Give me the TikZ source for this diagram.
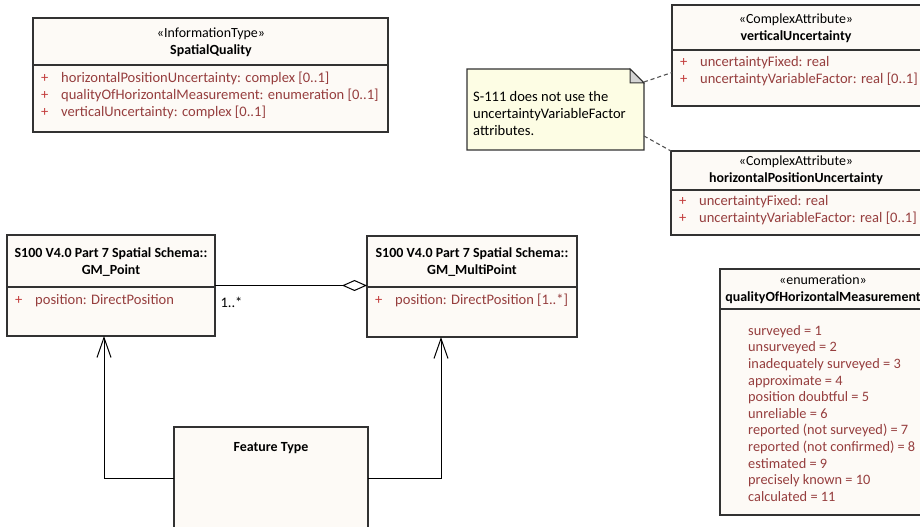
\documentclass[tikz,border=0pt]{standalone}
\usepackage{fontspec}
\setmainfont{Carlito}
\usepackage{xcolor}
\usetikzlibrary{arrows.meta}
\definecolor{boxfill}{RGB}{253,250,246}
\definecolor{boxline}{RGB}{50,50,50}
\definecolor{attrred}{RGB}{150,62,62}
\definecolor{plusred}{RGB}{195,60,60}
\definecolor{notefill}{RGB}{253,253,228}
\definecolor{foldgray}{RGB}{212,212,212}
\newcommand{\umlfont}{\fontsize{14}{17}\selectfont}
\newcommand{\attrfont}{\fontsize{14.6}{17.2}\selectfont}
\newcommand{\enumfont}{\fontsize{14.4}{16.7}\selectfont}
\newcommand{\plusmark}{\makebox[20bp][l]{\textcolor{plusred}{+}}}
\tikzstyle{classbox} = [rectangle, draw=boxline, fill=boxfill, line width=1.2bp, inner sep=0pt, outer sep=0pt, anchor=north west]
\tikzstyle{headtext} = [align=center, font=\umlfont, inner sep=0pt]
\tikzstyle{attrtext} = [align=left, anchor=north west, font=\attrfont, text=attrred, inner sep=0pt]
\tikzstyle{divider} = [draw=boxline, line width=1.2bp]
\tikzstyle{notebox} = [rectangle, inner sep=0pt, outer sep=0pt, anchor=north west]
\tikzstyle{noteline} = [draw=boxline, fill=notefill, line width=1.2bp, line join=miter]
\tikzstyle{notefold} = [draw=boxline, fill=foldgray, line width=1bp]
\tikzstyle{notetext} = [align=left, anchor=north west, font=\attrfont, inner sep=0pt]
\tikzstyle{notelink} = [draw=boxline!85, line width=1.1bp, dash pattern=on 4bp off 3bp]
\tikzstyle{assoc} = [line width=1bp, -{Diamond[open, length=25bp, width=11bp]}]
\tikzstyle{genarrow} = [line width=1bp, -{Straight Barb[length=20bp, width=14bp]}]
\tikzstyle{multtext} = [font=\attrfont, inner sep=0pt]

\begin{document}
\begin{tikzpicture}[x=1bp, y=-1bp]
\useasboundingbox (0,0) rectangle (920,527);
\clip (0,0) rectangle (920,527);

% information type
\node (spatial) [classbox, minimum width=355bp, minimum height=114bp] at (33,18) {};
\draw [divider] (spatial.west |- 0,65) -- (spatial.east |- 0,65);
\node (spatialhead) [headtext] at (211,42.5) {«InformationType»\\\textbf{SpatialQuality}};
\node (spatialattr) [attrtext] at (41,72) {\plusmark horizontalPositionUncertainty: complex [0..1]\\
  \plusmark qualityOfHorizontalMeasurement: enumeration [0..1]\\
  \plusmark verticalUncertainty: complex [0..1]};

% note
\node (note) [notebox, minimum width=177bp, minimum height=81bp] at (467,69) {};
\draw [noteline] (note.south west) -- (note.north west) -- ([xshift=-14bp]note.north east) -- ([yshift=-14bp]note.north east) -- (note.south east) -- cycle;
\draw [notefold] ([xshift=-14bp]note.north east) -- ([yshift=-14bp]note.north east) -- ([xshift=-14bp,yshift=-14bp]note.north east) -- cycle;
\node (notetext) [notetext] at (473,91) {S-111 does not use the\\uncertaintyVariableFactor\\attributes.};

% complex attributes
\node (vertunc) [classbox, minimum width=270bp, minimum height=101bp] at (672,5) {};
\draw [divider] (vertunc.west |- 0,50) -- (vertunc.east |- 0,50);
\node (vertunchead) [headtext] at (796,28) {«ComplexAttribute»\\\textbf{verticalUncertainty}};
\node (vertuncattr) [attrtext] at (680,56) {\plusmark uncertaintyFixed: real\\
  \plusmark uncertaintyVariableFactor: real [0..1]};

\node (horizunc) [classbox, minimum width=270bp, minimum height=84bp] at (671,151) {};
\draw [divider] (horizunc.west |- 0,190) -- (horizunc.east |- 0,190);
\node (horizunchead) [headtext] at (796,170) {«ComplexAttribute»\\\textbf{horizontalPositionUncertainty}};
\node (horizuncattr) [attrtext] at (679,195) {\plusmark uncertaintyFixed: real\\
  \plusmark uncertaintyVariableFactor: real [0..1]};

\draw [notelink] ([yshift=-13bp]note.north east) -- ([yshift=-17bp]vertunc.west);
\draw [notelink] ([yshift=14bp]note.south east) -- ([yshift=42bp]horizunc.west);

% spatial schema
\node (gmpoint) [classbox, minimum width=208bp, minimum height=101bp] at (7,235) {};
\draw [divider] (gmpoint.west |- 0,287) -- (gmpoint.east |- 0,287);
\node (gmpointhead) [headtext] at (111,262) {\textbf{S100 V4.0 Part 7 Spatial Schema::}\\\textbf{GM\_Point}};
\node (gmpointattr) [attrtext] at (15,294) {\plusmark position: DirectPosition};

\node (gmmulti) [classbox, minimum width=210bp, minimum height=101bp] at (367,236) {};
\draw [divider] (gmmulti.west |- 0,287) -- (gmmulti.east |- 0,287);
\node (gmmultihead) [headtext] at (472,262.5) {\textbf{S100 V4.0 Part 7 Spatial Schema::}\\\textbf{GM\_MultiPoint}};
\node (gmmultiattr) [attrtext] at (375,294) {\plusmark position: DirectPosition [1..*]};

\draw [assoc] (gmpoint.east) -- node [multtext, pos=0, anchor=north west, xshift=5bp, yshift=-11bp] {1..*} (gmpoint.east -| gmmulti.west);

% feature type
\node (feature) [classbox, minimum width=194bp, minimum height=102bp] at (174,427) {};
\node (featurehead) [headtext] at (271,448) {\textbf{Feature Type}};
\draw [genarrow] (feature.west) -| ([xshift=-7bp]gmpoint.south);
\draw [genarrow] (feature.east) -| ([xshift=-31bp]gmmulti.south);

% enumeration
\node (enumq) [classbox, minimum width=222bp, minimum height=246bp] at (720,269) {};
\draw [divider] (enumq.west |- 0,309) -- (enumq.east |- 0,309);
\node (enumqhead) [headtext] at (823,289.5) {«enumeration»\\\textbf{qualityOfHorizontalMeasurement}};
\node (enumqattr) [attrtext, font=\enumfont] at (748,325) {surveyed = 1\\unsurveyed = 2\\inadequately surveyed = 3\\approximate = 4\\position doubtful = 5\\unreliable = 6\\reported (not surveyed) = 7\\reported (not confirmed) = 8\\estimated = 9\\precisely known = 10\\calculated = 11};
\end{tikzpicture}
\end{document}
